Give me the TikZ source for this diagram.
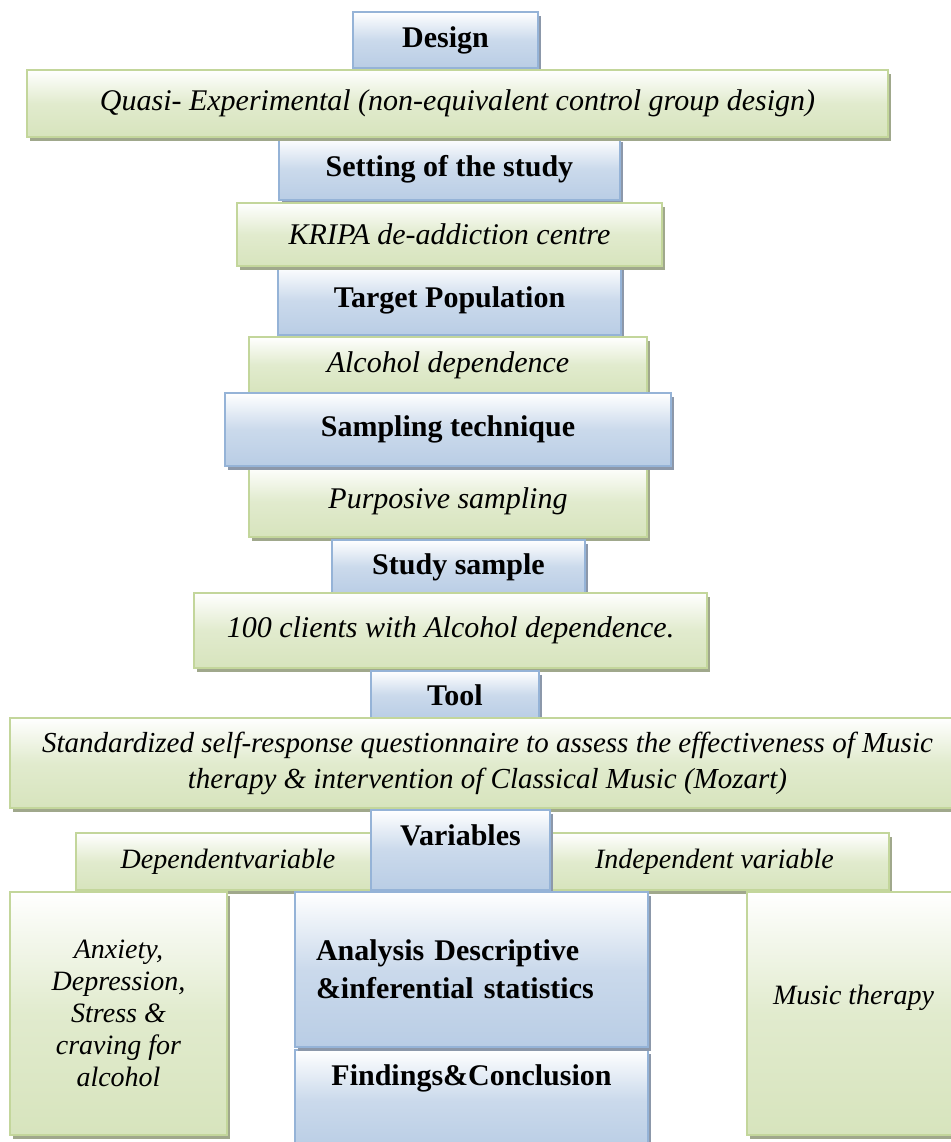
\documentclass[tikz,border=0pt]{standalone}
\usepackage{fontspec}
\setmainfont{Liberation Serif}
\usepackage{tikz}
\usetikzlibrary{shadows}
\definecolor{blueedge}{RGB}{149,179,215}
\definecolor{bluefill}{RGB}{185,205,229}
\definecolor{blueshade}{RGB}{140,152,170}
\definecolor{greenedge}{RGB}{195,214,155}
\definecolor{greenfill}{RGB}{215,228,189}
\definecolor{greenshade}{RGB}{160,168,140}

\begin{document}
\begin{tikzpicture}[
  x=0.5pt, y=-0.5pt,
  box/.style={draw, line width=1pt, inner sep=2pt, align=center},
  head/.style={box, draw=blueedge, top color=white, bottom color=bluefill, middle color=bluefill!75!white,
    font=\fontsize{15}{19}\selectfont\bfseries,
    drop shadow={shadow xshift=1.5pt, shadow yshift=-2pt, fill=blueshade, opacity=1}},
  info/.style={box, draw=greenedge, top color=white, bottom color=greenfill, middle color=greenfill!75!white,
    font=\fontsize{15}{18}\selectfont\itshape,
    drop shadow={shadow xshift=1.5pt, shadow yshift=-2pt, fill=greenshade, opacity=1}},
  small/.style={font=\fontsize{14}{16}\selectfont\itshape}
]
\path[use as bounding box, fill=white] (0,0) rectangle (950,1142);

% top column
\node[head, minimum width=92.5pt, minimum height=28pt] (design) at (445.5,40) {Design};
\node[head, minimum width=170.5pt, minimum height=31pt] (setting) at (449.5,169) {Setting of the study};
\node[info, minimum width=430.5pt, minimum height=33.5pt] (quasi) at (457.5,103.5) {Quasi- Experimental (non-equivalent control group design)};
\node[head, minimum width=171.5pt, minimum height=34.5pt] (target) at (449.5,300.5) {Target Population};
\node[info, minimum width=212.5pt, minimum height=31.5pt] (kripa) at (449.5,234.5) {KRIPA de-addiction centre};
\node[info, minimum width=199pt, minimum height=28pt] (alcohol) at (448,365) {Alcohol dependence};
\node[info, minimum width=199pt, minimum height=35.5pt] (purposive) at (448,501.5) {Purposive sampling};
\node[head, minimum width=223pt, minimum height=36.5pt] (sampling) at (448,429.5) {Sampling technique};
\node[head, minimum width=126.5pt, minimum height=27pt] (study) at (458.5,567) {Study sample};
\node[info, minimum width=256.5pt, minimum height=37.5pt] (clients) at (450.5,630.5) {100 clients with Alcohol dependence.};
\node[head, minimum width=84pt, minimum height=24pt] (tool) at (455,695) {Tool};
\node[info, font=\fontsize{14.5}{18}\selectfont\itshape, minimum width=477.5pt, minimum height=45pt] (quest) at (487.5,763)
  {Standardized self-response questionnaire to assess the effectiveness of Music\\therapy \& intervention of Classical Music (Mozart)};

% variables row
\node[info, small, minimum width=152pt, minimum height=28.5pt] (depvar) at (228,861.5) {Dependentvariable};
\node[info, small, minimum width=174.5pt, minimum height=28.5pt] (indvar) at (714.5,861.5) {Independent variable};
\node[head, text depth=15pt, minimum width=89.5pt, minimum height=40pt] (vars) at (460.5,850) {Variables};

% bottom row
\node[info, small, minimum width=108.5pt, minimum height=121.5pt] (anxiety) at (118.5,1013.5)
  {Anxiety,\\Depression,\\Stress \&\\craving for\\alcohol};
\node[info, small, text depth=19pt, minimum width=106.5pt, minimum height=121.5pt] (music) at (853.5,1013.5) {Music therapy};
\node[head, text depth=25pt, minimum width=176.5pt, minimum height=50pt] (findings) at (471.5,1100) {Findings\&Conclusion};
\node[head, align=left, text width=155.5pt, minimum width=176.5pt, minimum height=77.5pt] (analysis) at (471.5,969.5)
  {Analysis Descriptive\\\&inferential statistics};
\end{tikzpicture}
\end{document}
